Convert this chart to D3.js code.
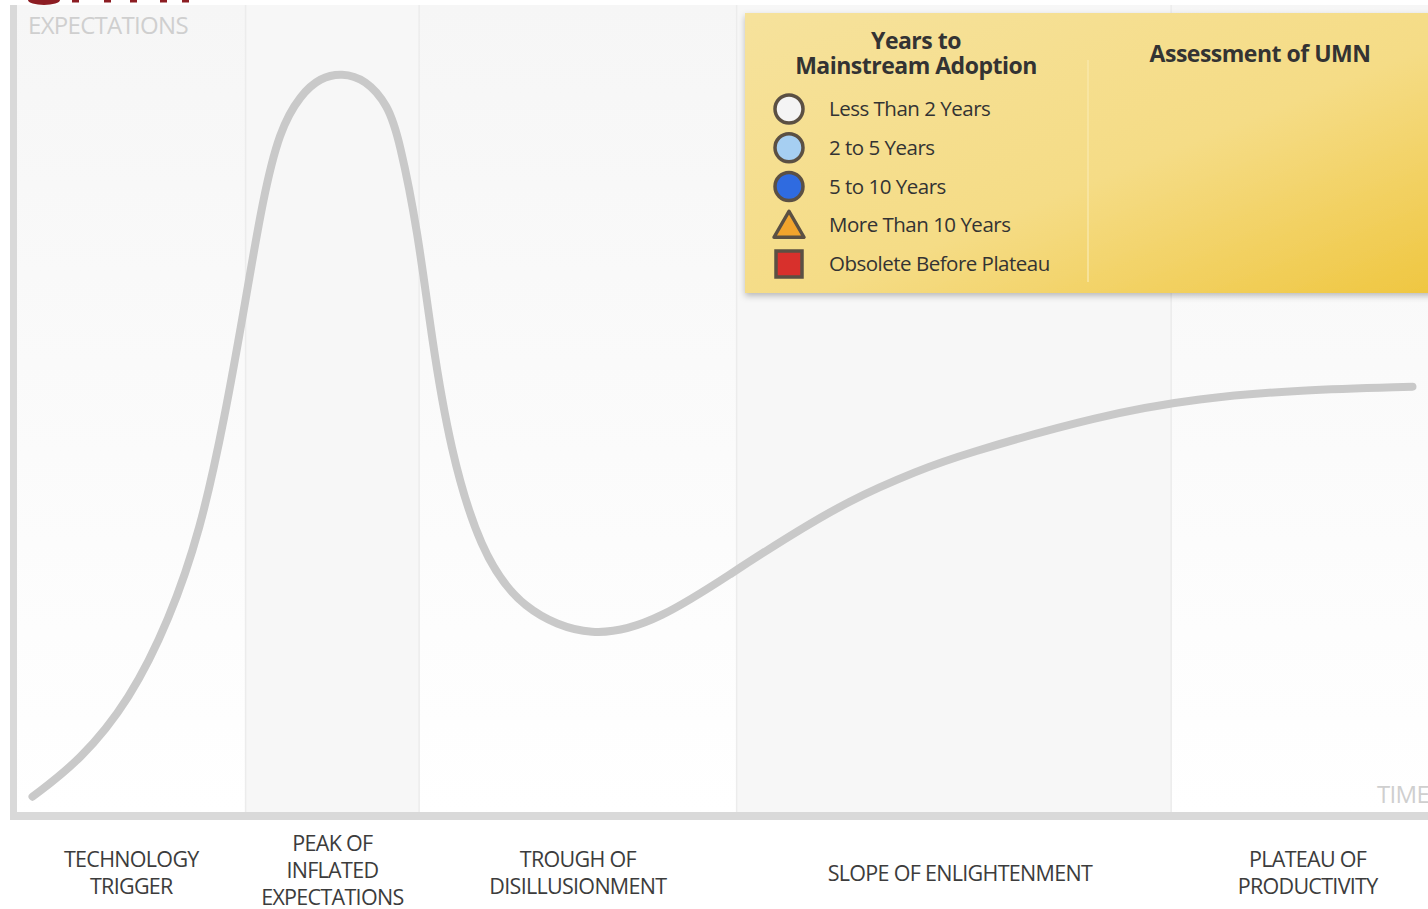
<!DOCTYPE html>
<html>
<head>
<meta charset="utf-8">
<script src="https://cdn.jsdelivr.net/npm/d3@7"></script>
<style>
  body { margin: 0; background: #fff; }
  svg { display: block; font-family: "Open Sans", sans-serif; }
</style>
</head>
<body>
<svg width="1428" height="909"></svg>
<script>
window.onload = function() {

// hype curve, time (0-100) vs expectations (0-100)
var curveTime = [1.1, 4.5, 8.0, 10.8, 13.0, 14.7, 16.2, 17.4, 18.6, 20.1, 21.5, 23.0, 24.7, 26.3, 27.1, 28.4, 29.4, 30.7, 32.8, 35.7, 40.8, 45.6, 51.0, 54.1, 59.0, 64.0, 66.8, 76.8, 83.8, 90.9, 98.9];
var curveExp  = [1.9, 6.4, 13.9, 23.8, 34.9, 48.6, 63.4, 75.8, 84.5, 88.9, 91.0, 91.6, 90.8, 87.6, 83.3, 72.1, 58.5, 44.9, 32.5, 25.0, 21.3, 23.8, 30.0, 33.5, 38.7, 42.4, 44.2, 49.2, 51.3, 52.3, 52.7];

var phaseNames = [
    ["TECHNOLOGY", "TRIGGER"],
    ["PEAK OF", "INFLATED", "EXPECTATIONS"],
    ["TROUGH OF", "DISILLUSIONMENT"],
    ["SLOPE OF ENLIGHTENMENT"],
    ["PLATEAU OF", "PRODUCTIVITY"]
];
var phaseBreaks = [0, 16.2, 28.5, 51.0, 81.8, 100];

var legendLabels = ["Less Than 2 Years", "2 to 5 Years", "5 to 10 Years", "More Than 10 Years", "Obsolete Before Plateau"];
var legendShapes = ["circle", "circle", "circle", "triangle", "square"];
var legendColors = ["#f4f4f4", "#a6cff2", "#2f6be0", "#f2a42c", "#d8302c"];

var svg = d3.select("svg");
var left = 17, right = 1428, top = 5, bottom = 812;

var x = d3.scaleLinear().domain([0, 100]).range([left, right]);
var y = d3.scaleLinear().domain([0, 100]).range([bottom, top]);

var defs = svg.append("defs");

var fade = defs.append("linearGradient").attr("id", "fade")
    .attr("x1", 0).attr("y1", 0).attr("x2", 0).attr("y2", 1);
fade.append("stop").attr("offset", "0%").attr("stop-color", "#f6f6f6");
fade.append("stop").attr("offset", "100%").attr("stop-color", "#ffffff");

var gold = defs.append("linearGradient").attr("id", "gold")
    .attr("x1", 0).attr("y1", 0).attr("x2", 1).attr("y2", 1);
gold.append("stop").attr("offset", "0%").attr("stop-color", "#f6e29c");
gold.append("stop").attr("offset", "55%").attr("stop-color", "#f5dc86");
gold.append("stop").attr("offset", "100%").attr("stop-color", "#efc63f");

var shadow = defs.append("filter").attr("id", "shadow")
    .attr("x", "-5%").attr("y", "-5%").attr("width", "110%").attr("height", "120%");
shadow.append("feDropShadow").attr("dx", 0).attr("dy", 3).attr("stdDeviation", 3)
    .attr("flood-color", "#000").attr("flood-opacity", 0.25);

// logo fragment cut off at top
var logo = svg.append("g").attr("fill", "#8c1c22");
logo.append("path").attr("d", "M28,0 A16,5 0 0 0 60,0 Z");
[72, 104, 130, 160, 182].forEach(function(px) {
    logo.append("rect").attr("x", px).attr("y", 0).attr("width", 7).attr("height", 2.5);
});

// phase bands
var bands = svg.append("g");
bands.selectAll("rect")
    .data(d3.range(5))
    .enter().append("rect")
    .attr("x", function(i) { return x(phaseBreaks[i]); })
    .attr("y", top)
    .attr("width", function(i) { return x(phaseBreaks[i + 1]) - x(phaseBreaks[i]); })
    .attr("height", bottom - top)
    .attr("fill", function(i) { return i % 2 === 1 ? "#f7f7f7" : "url(#fade)"; });

bands.selectAll("line")
    .data(phaseBreaks.slice(1, 5))
    .enter().append("line")
    .attr("x1", function(d) { return x(d); })
    .attr("x2", function(d) { return x(d); })
    .attr("y1", top)
    .attr("y2", bottom)
    .attr("stroke", "#ececec")
    .attr("stroke-width", 1.5);

// frame
svg.append("rect").attr("x", 10).attr("y", top).attr("width", 7).attr("height", bottom - top + 8).attr("fill", "#d9d9d9");
svg.append("rect").attr("x", 10).attr("y", bottom).attr("width", right - 10).attr("height", 8).attr("fill", "#d9d9d9");

svg.append("text").attr("x", 28).attr("y", 34)
    .attr("font-size", 24).attr("fill", "#cfcfcf").attr("letter-spacing", -0.7)
    .text("EXPECTATIONS");
svg.append("text").attr("x", 1377).attr("y", 803)
    .attr("font-size", 24).attr("fill", "#cfcfcf").attr("letter-spacing", -0.7)
    .text("TIME");

// curve
var pts = curveTime.map(function(t, i) { return [t, curveExp[i]]; });
var line = d3.line()
    .x(function(d) { return x(d[0]); })
    .y(function(d) { return y(d[1]); })
    .curve(d3.curveBasis);

svg.append("path")
    .datum(pts)
    .attr("fill", "none")
    .attr("stroke", "#c9c9c9")
    .attr("stroke-width", 8)
    .attr("stroke-linecap", "round")
    .attr("d", line);

// phase labels
var labels = svg.append("g")
    .attr("font-size", 21.5).attr("fill", "#3c3c3c")
    .attr("text-anchor", "middle").attr("letter-spacing", -0.7);
phaseNames.forEach(function(lines, i) {
    var cx = x((phaseBreaks[i] + phaseBreaks[i + 1]) / 2);
    if (i === 3) cx += 6;
    if (i === 4) cx += 8;
    var y0 = 881 - (lines.length - 1) * 14;
    if (lines.length === 3) y0 = 851;
    var t = labels.append("text").attr("x", cx).attr("y", y0);
    lines.forEach(function(s, j) {
        t.append("tspan").attr("x", cx).attr("dy", j === 0 ? 0 : 27).text(s);
    });
});

// legend box
var box = svg.append("g");
box.append("rect")
    .attr("x", 745).attr("y", 13).attr("width", 700).attr("height", 280)
    .attr("fill", "url(#gold)").attr("filter", "url(#shadow)");
box.append("line")
    .attr("x1", 1088).attr("x2", 1088).attr("y1", 60).attr("y2", 282)
    .attr("stroke", "#f8e7a8").attr("stroke-width", 1.5);

var heads = box.append("g").attr("font-size", 23).attr("font-weight", 700)
    .attr("fill", "#333").attr("text-anchor", "middle").attr("letter-spacing", -0.5);
heads.append("text").attr("x", 916).attr("y", 49).text("Years to");
heads.append("text").attr("x", 916).attr("y", 74).text("Mainstream Adoption");
heads.append("text").attr("x", 1260).attr("y", 62).text("Assessment of UMN");

var ly = d3.scalePoint().domain(legendLabels).range([109, 264]);
var items = box.selectAll("g.item")
    .data(legendLabels)
    .enter().append("g")
    .attr("class", "item")
    .attr("transform", function(d) { return "translate(789," + ly(d) + ")"; });

items.each(function(d, i) {
    var g = d3.select(this);
    var shape = legendShapes[i];
    if (shape === "circle") {
        g.append("circle").attr("r", 14).attr("fill", legendColors[i])
            .attr("stroke", "#5b5043").attr("stroke-width", 3.5);
    } else if (shape === "triangle") {
        g.append("path").attr("d", "M0,-14 L15,12 L-15,12 Z").attr("fill", legendColors[i])
            .attr("stroke", "#5b5043").attr("stroke-width", 3.5).attr("stroke-linejoin", "round");
    } else {
        g.append("rect").attr("x", -13).attr("y", -13).attr("width", 26).attr("height", 26)
            .attr("fill", legendColors[i]).attr("stroke", "#5b5043").attr("stroke-width", 3.5);
    }
    g.append("text").attr("x", 40).attr("y", 7)
        .attr("font-size", 20.5).attr("fill", "#333").attr("letter-spacing", -0.5)
        .text(d);
});

}
</script>
</body>
</html>
